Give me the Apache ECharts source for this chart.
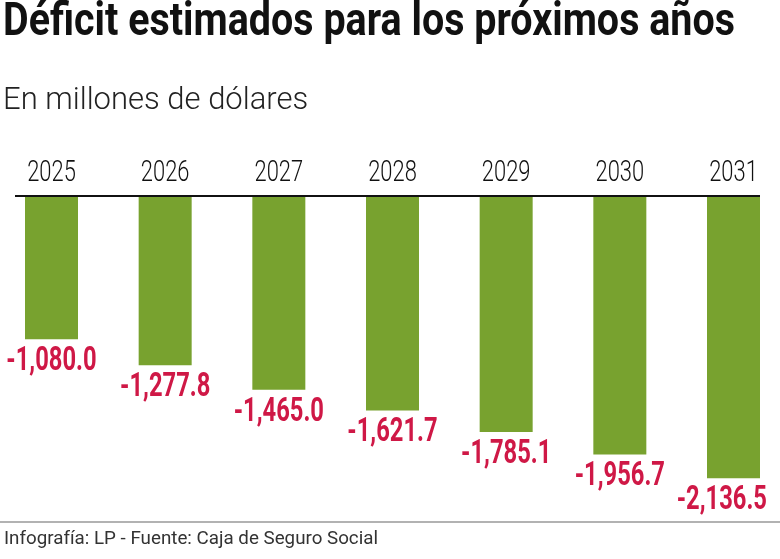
<!DOCTYPE html>
<html>
<head>
<meta charset="utf-8">
<script src="https://cdn.jsdelivr.net/npm/echarts@6/dist/echarts.min.js"></script>
<style>html,body{margin:0;padding:0;background:#fff}#c{width:780px;height:559px}</style>
</head>
<body>
<div id="c"></div>
<script>
const years = ['2025','2026','2027','2028','2029','2030','2031'];
const deficit = [-1080.0, -1277.8, -1465.0, -1621.7, -1785.1, -1956.7, -2136.5];
const titleText = 'Déficit estimados para los próximos años';
const subtitleText = 'En millones de dólares';
const footerText = 'Infografía: LP - Fuente: Caja de Seguro Social';

const ctx = document.createElement('canvas').getContext('2d');
function textWidth(text, font) { ctx.font = font; return ctx.measureText(text).width; }
function fitScale(text, font, target) { return target / textWidth(text, font); }
const titleFont = 'bold 46px Roboto';
const footerFont = '17.5px Roboto';
const labelFont = 'bold 33px Roboto';
const labelScale = 0.72;
const titleScale = fitScale(titleText, titleFont, 732);
const footerScale = fitScale(footerText, footerFont, 374);
const fmt = v => v.toLocaleString('en-US', { minimumFractionDigits: 1, maximumFractionDigits: 1 });

const chart = echarts.init(document.getElementById('c'));
chart.setOption({
  backgroundColor: '#fff',
  animation: false,
  grid: { left: 51.5, right: 46.5, top: 197, bottom: 33 },
  xAxis: {
    type: 'category',
    data: years,
    position: 'top',
    boundaryGap: false,
    axisLine: { show: false },
    axisTick: { show: false },
    axisLabel: { show: false }
  },
  yAxis: { type: 'value', min: -2500, max: 0, show: false, splitLine: { show: false } },
  series: [{
    type: 'bar',
    data: deficit,
    barWidth: 53,
    itemStyle: { color: '#78a22f' }
  }, {
    type: 'custom',
    data: deficit.map((v, i) => [i, v]),
    silent: true,
    z: 5,
    renderItem: (params, api) => {
      const i = api.value(0), v = api.value(1);
      const bottom = api.coord([i, v]);
      const top = api.coord([i, 0]);
      const txt = fmt(v);
      const half = textWidth(txt, labelFont) * labelScale / 2;
      const lx = Math.min(bottom[0], 767 - half);
      return {
        type: 'group',
        children: [{
          type: 'text', x: lx, y: bottom[1] + 6, scaleX: labelScale,
          style: { text: txt, font: labelFont, fill: '#cf1846', align: 'center', verticalAlign: 'top' }
        }, {
          type: 'text', x: top[0], y: top[1] - 9, scaleX: 0.73,
          style: { text: years[i], font: '300 30px Roboto', fill: '#111', align: 'center', verticalAlign: 'bottom' }
        }]
      };
    }
  }],
  graphic: [
    { type: 'text', x: 3, y: 0, scaleX: titleScale, style: { text: titleText, font: titleFont, fill: '#111', verticalAlign: 'top' } },
    { type: 'text', x: 3, y: 86, style: { text: subtitleText, font: '300 31px Roboto', fill: '#222', verticalAlign: 'top' } },
    { type: 'line', shape: { x1: 15, y1: 196, x2: 760, y2: 196 }, style: { stroke: '#111', lineWidth: 2 } },
    { type: 'line', shape: { x1: 0, y1: 522, x2: 780, y2: 522 }, style: { stroke: '#999', lineWidth: 1.5 } },
    { type: 'text', x: 4, y: 531, scaleX: footerScale, style: { text: footerText, font: footerFont, fill: '#333', verticalAlign: 'top' } }
  ]
});
</script>
</body>
</html>
